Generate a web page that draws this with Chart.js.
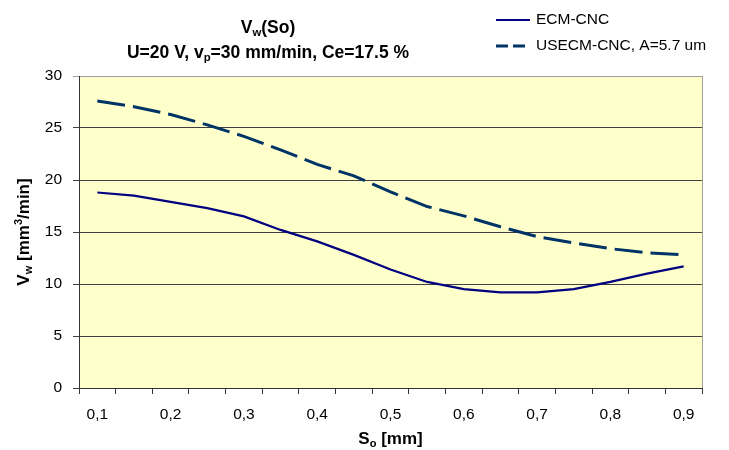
<!DOCTYPE html>
<html>
<head>
<meta charset="utf-8">
<script src="https://cdn.jsdelivr.net/npm/chart.js@4.4.0/dist/chart.umd.min.js"></script>
<style>
    html, body { margin: 0; padding: 0; background: #fff; }
    #wrap { width: 729px; height: 450px; }
</style>
</head>
<body>
<div id="wrap"><canvas id="lineChart" width="729" height="450"></canvas></div>
<script>
// feed S_o [mm], one point every 0.05
const categories = ['0,1', '0,15', '0,2', '0,25', '0,3', '0,35', '0,4', '0,45', '0,5',
    '0,55', '0,6', '0,65', '0,7', '0,75', '0,8', '0,85', '0,9'];
const tickLabels = ['0,1', '0,2', '0,3', '0,4', '0,5', '0,6', '0,7', '0,8', '0,9'];
const ecmValues = [18.8, 18.5, 17.9, 17.3, 16.5, 15.2, 14.1, 12.8, 11.4,
    10.2, 9.5, 9.2, 9.2, 9.5, 10.2, 11.0, 11.7];
const usecmValues = [27.6, 27.05, 26.3, 25.3, 24.2, 22.9, 21.5, 20.4, 18.85,
    17.45, 16.55, 15.5, 14.55, 13.95, 13.4, 13.0, 12.8];
const yTicks = [0, 5, 10, 15, 20, 25, 30];

const FONT = "'Liberation Sans', Arial, sans-serif";

// draws text with sub/superscript pieces: parts = [[text, 'sub'|'sup'|''], ...]
function drawRich(ctx, parts, x, y, size, bold, align) {
    const weight = bold ? 'bold ' : '';
    const fontFor = mode => weight + (mode ? size * 0.65 : size) + 'px ' + FONT;
    let total = 0;
    parts.forEach(p => { ctx.font = fontFor(p[1]); total += ctx.measureText(p[0]).width; });
    let cx = align === 'center' ? x - total / 2 : x;
    ctx.textAlign = 'left';
    ctx.textBaseline = 'middle';
    parts.forEach(p => {
        ctx.font = fontFor(p[1]);
        let dy = 0;
        if (p[1] === 'sub') dy = size * 0.3;
        if (p[1] === 'sup') dy = -size * 0.3;
        ctx.fillText(p[0], cx, y + dy);
        cx += ctx.measureText(p[0]).width;
    });
}

const plotBg = {
    id: 'plotBg',
    beforeDraw(chart) {
        const a = chart.chartArea, ctx = chart.ctx;
        ctx.save();
        ctx.fillStyle = '#ffffcc';
        ctx.fillRect(a.left, a.top, a.right - a.left, a.bottom - a.top);
        ctx.restore();
    }
};

const texts = {
    id: 'texts',
    afterDraw(chart) {
        const a = chart.chartArea, ctx = chart.ctx;
        ctx.save();
        // right border of plot
        ctx.strokeStyle = '#a0a0a0';
        ctx.lineWidth = 1;
        ctx.beginPath();
        ctx.moveTo(a.right + 0.5, a.top);
        ctx.lineTo(a.right + 0.5, a.bottom);
        ctx.stroke();

        ctx.fillStyle = '#000';
        drawRich(ctx, [['V', ''], ['w', 'sub'], ['(So)', '']], 268, 28, 17.5, true, 'center');
        drawRich(ctx, [['U=20 V, v', ''], ['p', 'sub'], ['=30 mm/min, Ce=17.5 %', '']], 268, 53, 17.5, true, 'center');

        // x title
        drawRich(ctx, [['S', ''], ['o', 'sub'], [' [mm]', '']], (a.left + a.right) / 2, 439, 17, true, 'center');

        // y title
        ctx.save();
        ctx.translate(24, (a.top + a.bottom) / 2);
        ctx.rotate(-Math.PI / 2);
        drawRich(ctx, [['V', ''], ['w', 'sub'], [' [mm', ''], ['3', 'sup'], ['/min]', '']], 0, 0, 17, true, 'center');
        ctx.restore();

        // legend
        const rows = [20, 46];
        chart.data.datasets.forEach((ds, i) => {
            ctx.save();
            ctx.strokeStyle = ds.borderColor;
            ctx.lineWidth = ds.borderWidth;
            ctx.setLineDash(ds.borderDash ? [12, 5] : []);
            ctx.beginPath();
            ctx.moveTo(496, rows[i]);
            ctx.lineTo(530, rows[i]);
            ctx.stroke();
            ctx.restore();
            ctx.fillStyle = '#000';
            ctx.font = '15.5px ' + FONT;
            ctx.textAlign = 'left';
            ctx.textBaseline = 'middle';
            ctx.fillText(ds.label, 536, rows[i]);
        });
        ctx.restore();
    }
};

const ctxLine = document.getElementById('lineChart').getContext('2d');
const lineChart = new Chart(ctxLine, {
    type: 'line',
    data: {
        labels: categories,
        datasets: [{
            label: 'ECM-CNC',
            data: ecmValues,
            borderColor: '#000080',
            borderWidth: 2.2,
            pointRadius: 0,
            tension: 0,
            fill: false
        }, {
            label: 'USECM-CNC, A=5.7 um',
            data: usecmValues,
            borderColor: '#003366',
            borderWidth: 3,
            borderDash: [28, 8],
            pointRadius: 0,
            tension: 0,
            fill: false
        }]
    },
    options: {
        responsive: false,
        animation: false,
        devicePixelRatio: 1,
        layout: { padding: { left: 0, top: 76, right: 27, bottom: 0 } },
        plugins: {
            legend: { display: false },
            title: { display: false },
            tooltip: { enabled: false }
        },
        scales: {
            x: {
                type: 'category',
                offset: true,
                grid: { offset: true, drawOnChartArea: false, drawTicks: true, tickLength: 6, color: '#333' },
                border: { color: '#333' },
                ticks: {
                    autoSkip: false,
                    maxRotation: 0,
                    padding: 11,
                    color: '#000',
                    font: { family: FONT, size: 15.5 },
                    callback: (v, i) => i % 2 === 0 ? tickLabels[i / 2] : ''
                },
                afterFit: s => { s.height = 62; }
            },
            y: {
                min: yTicks[0],
                max: yTicks[yTicks.length - 1],
                afterBuildTicks: s => { s.ticks = yTicks.map(v => ({ value: v })); },
                grid: {
                    tickLength: 6,
                    color: c => (c.tick && c.tick.value === 30) ? '#a0a0a0' : '#404040'
                },
                border: { color: '#333' },
                ticks: {
                    padding: 11,
                    color: '#000',
                    font: { family: FONT, size: 15.5 }
                },
                afterFit: s => { s.width = 79; }
            }
        }
    },
    plugins: [plotBg, texts]
});
</script>
</body>
</html>
